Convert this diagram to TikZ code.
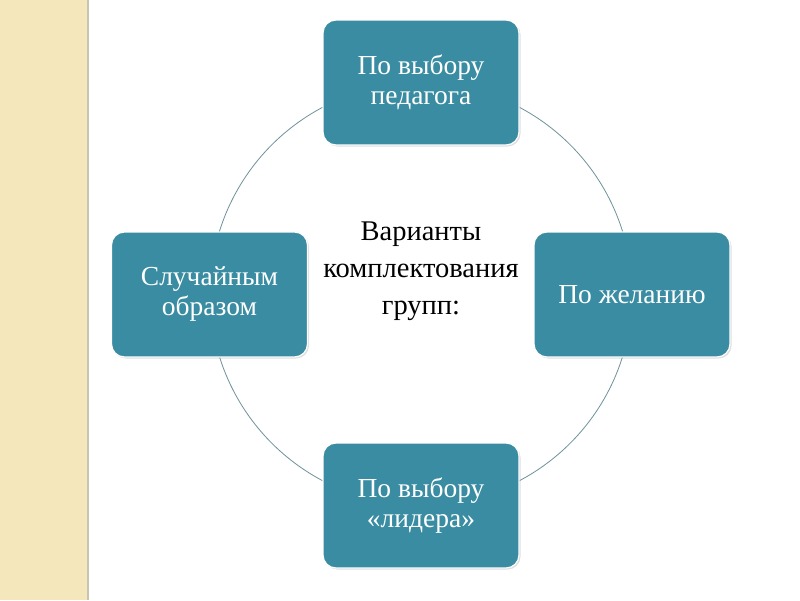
\documentclass[tikz,border=0pt]{standalone}
\usepackage{fontspec}
\setmainfont{Liberation Serif}
\usepackage{tikz}
\usetikzlibrary{shadows}
\definecolor{myteal}{RGB}{57,140,161}
\definecolor{myring}{RGB}{110,145,155}
\definecolor{mysand}{RGB}{245,231,188}
\definecolor{myedge}{RGB}{200,196,180}
\tikzset{
  choice/.style={rectangle, draw=white, fill=myteal, line width=1.2pt,
    minimum width=196pt, minimum height=125pt, rounded corners=13pt,
    text=white, align=center, font=\fontsize{27.5}{30}\selectfont,
    drop shadow={opacity=0.25, shadow xshift=1.5pt, shadow yshift=-1.5pt}},
  ring/.style={circle, draw=myring, line width=0.8pt, minimum size=422pt, inner sep=0pt},
  title/.style={align=center, font=\fontsize{28.5}{37}\selectfont, text=black}
}

\begin{document}
\begin{tikzpicture}[x=1pt, y=-1pt]
  \useasboundingbox (0,0) rectangle (800,600);
  \fill[white] (0,0) rectangle (800,600);

  % side strip
  \fill[mysand] (0,0) rectangle (87,600);
  \draw[myedge, line width=1.5pt] (88,0) -- (88,600);

  % ring and title
  \node[ring] (ring) at (421,294) {};
  \node[title] (center) at (421,271) {Варианты\\комплектования\\групп:};

  % choices
  \node[choice] (top) at (421,82.5) {По выбору\\педагога};
  \node[choice] (left) at (209.5,294.5) {Случайным\\образом};
  \node[choice] (right) at (632,294.5) {По желанию};
  \node[choice] (bottom) at (421,505.5) {По выбору\\«лидера»};
\end{tikzpicture}
\end{document}
